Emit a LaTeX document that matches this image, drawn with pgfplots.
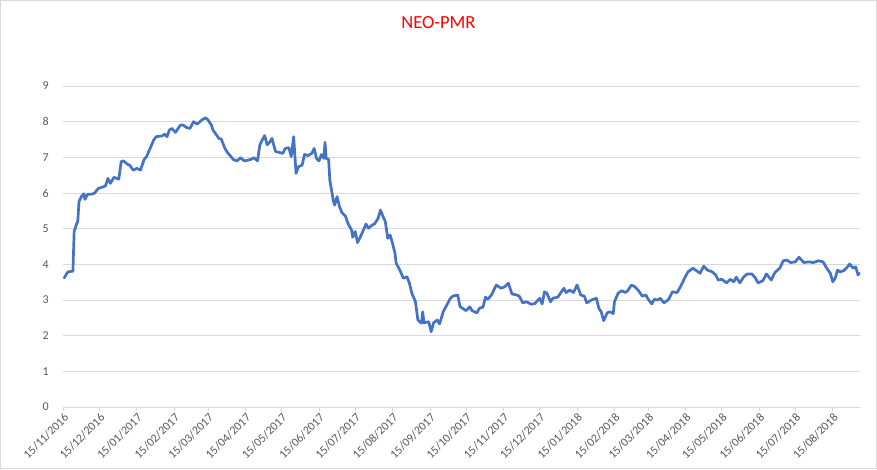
\documentclass[border=0pt]{standalone}
\usepackage{pgfplots}
\pgfplotsset{compat=1.18}
\usepackage{fontspec}
\setmainfont{Carlito}
\definecolor{lineblue}{HTML}{4472C4}
\definecolor{gridgray}{HTML}{D9D9D9}
\definecolor{labelgray}{HTML}{595959}
\begin{document}
\begin{tikzpicture}[x=1pt,y=1pt]
\useasboundingbox (0,0) rectangle (877,469);
\draw[gridgray, line width=0.8pt] (0.5,0.5) rectangle (876.5,468.5);
\node[text=red, font=\fontsize{18.5}{20}\selectfont] at (438.5,446.5) {NEO-PMR};
\begin{axis}[
  at={(63.3pt,62pt)}, anchor=south west,
  scale only axis, width=796.7pt, height=321pt,
  xmin=0, xmax=660.6, ymin=0, ymax=9,
  axis x line*=bottom, axis y line*=left,
  x axis line style={gridgray, line width=0.8pt},
  y axis line style={draw=none},
  ymajorgrids, grid style={gridgray, line width=0.8pt},
  ytick={0,1,...,9},
  ytick style={draw=none},
  xtick style={gridgray, line width=0.8pt},
  tick align=outside, major tick length=4pt,
  xtick={0,30,61,92,120,151,181,212,242,273,304,334,365,395,426,457,485,516,546,577,607,638},
  xticklabels={15/11/2016,15/12/2016,15/01/2017,15/02/2017,15/03/2017,15/04/2017,15/05/2017,15/06/2017,15/07/2017,15/08/2017,15/09/2017,15/10/2017,15/11/2017,15/12/2017,15/01/2018,15/02/2018,15/03/2018,15/04/2018,15/05/2018,15/06/2018,15/07/2018,15/08/2018},
  xticklabel style={rotate=45, anchor=north east, font=\fontsize{12}{13}\selectfont, text=labelgray, inner sep=1pt},
  yticklabel style={font=\fontsize{12}{13}\selectfont, text=labelgray, xshift=-7pt},
  /pgf/number format/assume math mode=true,
  clip=false,
]
\addplot[lineblue, line width=2.7pt, line join=round, line cap=round] table {
x y
0.8 3.62
3 3.75
4 3.79
8 3.81
9 4.92
11 5.13
12 5.20
13 5.76
15 5.90
17 5.98
18 5.82
20 5.96
24 5.97
26 6.00
29 6.13
32 6.16
35 6.20
37 6.41
39 6.27
42 6.44
46 6.39
48 6.88
50 6.90
53 6.81
55 6.78
58 6.64
61 6.69
64 6.64
67 6.94
69 7.02
72 7.25
75 7.49
77 7.58
82 7.60
84 7.65
86 7.58
88 7.77
90 7.81
93 7.70
97 7.90
99 7.91
102 7.84
105 7.81
108 8.00
111 7.93
115 8.05
118 8.11
120 8.05
123 7.89
124 7.77
127 7.63
129 7.53
131 7.51
134 7.25
136 7.14
138 7.06
141 6.94
144 6.90
147 6.99
150 6.90
153 6.92
156 6.95
158 6.99
161 6.90
163 7.35
165 7.49
167 7.61
169 7.35
171 7.42
173 7.53
176 7.16
179 7.14
182 7.11
184 7.25
187 7.27
189 7.02
191 7.58
193 6.55
195 6.74
198 6.78
200 7.08
203 7.05
206 7.11
208 7.25
210 6.97
212 6.90
214 7.08
216 6.97
217 7.42
218 6.97
220 6.94
221 6.36
224 5.76
225 5.66
227 5.90
229 5.62
231 5.45
234 5.35
236 5.15
239 4.96
240 4.76
242 4.92
244 4.61
247 4.82
251 5.13
253 5.01
256 5.10
258 5.13
261 5.29
263 5.52
265 5.35
267 5.20
269 4.73
271 4.82
273 4.59
275 4.31
276 4.03
279 3.84
282 3.61
285 3.65
287 3.47
289 3.19
292 2.95
294 2.44
297 2.35
298 2.67
299 2.36
303 2.39
305 2.11
307 2.36
310 2.44
312 2.33
315 2.67
318 2.86
321 3.05
323 3.11
327 3.14
329 2.81
331 2.77
334 2.70
337 2.81
339 2.70
343 2.64
345 2.77
348 2.80
350 3.08
352 3.02
355 3.14
359 3.42
363 3.33
366 3.37
369 3.47
372 3.17
376 3.14
378 3.11
381 2.92
384 2.95
388 2.88
391 2.90
395 3.05
397 2.89
399 3.23
401 3.19
404 2.95
406 3.05
410 3.08
415 3.33
417 3.21
420 3.28
423 3.21
426 3.42
429 3.14
432 3.11
434 2.92
438 3.00
442 3.05
444 2.77
446 2.67
448 2.42
451 2.64
453 2.67
456 2.62
457 2.95
460 3.19
463 3.26
466 3.21
468 3.26
471 3.42
474 3.37
477 3.26
480 3.11
483 3.14
485 3.02
488 2.89
490 3.02
493 3.00
495 3.05
498 2.92
502 3.02
505 3.23
509 3.21
512 3.39
516 3.67
518 3.79
522 3.89
525 3.82
528 3.75
531 3.95
534 3.84
538 3.79
541 3.70
543 3.56
546 3.58
550 3.48
553 3.58
556 3.51
558 3.64
561 3.48
564 3.64
567 3.73
571 3.73
574 3.61
576 3.48
580 3.54
583 3.73
587 3.56
590 3.77
594 3.89
597 4.10
600 4.12
603 4.05
607 4.07
610 4.20
614 4.05
618 4.07
622 4.05
626 4.10
630 4.07
633 3.89
636 3.75
638 3.51
640 3.61
642 3.84
644 3.79
647 3.82
650 3.92
652 4.01
655 3.89
657 3.93
659 3.70
660 3.75
};
\end{axis}
\end{tikzpicture}
\end{document}
